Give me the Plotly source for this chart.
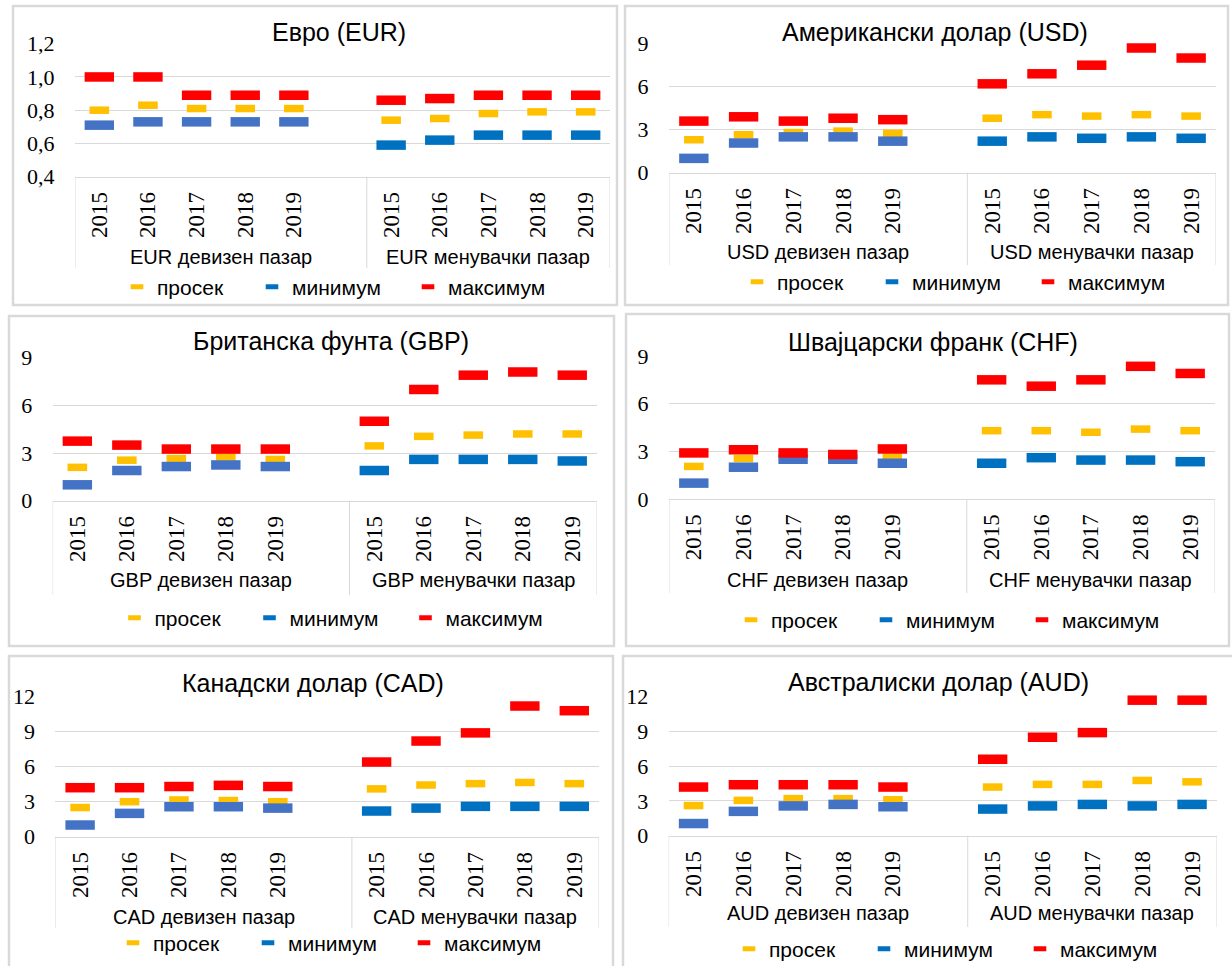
import plotly.graph_objects as go

W, H = 1232, 966

# ---------------- data ----------------
years = ["2015", "2016", "2017", "2018", "2019"]
series_names = ["просек", "минимум", "максимум"]
market_labels = ["девизен пазар", "менувачки пазар"]
currencies = ["EUR", "USD", "GBP", "CHF", "CAD", "AUD"]
titles = ["Евро (EUR)", "Американски долар (USD)", "Британска фунта (GBP)",
          "Швајцарски франк (CHF)", "Канадски долар (CAD)", "Австралиски долар (AUD)"]

eur_dev_avg = [0.80, 0.83, 0.81, 0.81, 0.81]
eur_dev_min = [0.71, 0.73, 0.73, 0.73, 0.73]
eur_dev_max = [1.00, 1.00, 0.89, 0.89, 0.89]
eur_men_avg = [0.74, 0.75, 0.78, 0.79, 0.79]
eur_men_min = [0.59, 0.62, 0.65, 0.65, 0.65]
eur_men_max = [0.86, 0.87, 0.89, 0.89, 0.89]

usd_dev_avg = [2.3, 2.65, 2.8, 2.9, 2.75]
usd_dev_min = [1.0, 2.07, 2.5, 2.5, 2.2]
usd_dev_max = [3.6, 3.9, 3.6, 3.8, 3.7]
usd_men_avg = [3.8, 4.05, 3.95, 4.05, 3.95]
usd_men_min = [2.2, 2.5, 2.4, 2.5, 2.4]
usd_men_max = [6.2, 6.9, 7.5, 8.7, 8.0]

gbp_dev_avg = [2.1, 2.55, 2.65, 2.75, 2.6]
gbp_dev_min = [1.0, 1.9, 2.15, 2.25, 2.15]
gbp_dev_max = [3.75, 3.5, 3.25, 3.25, 3.25]
gbp_men_avg = [3.45, 4.05, 4.13, 4.2, 4.2]
gbp_men_min = [1.9, 2.6, 2.6, 2.6, 2.5]
gbp_men_max = [5.0, 7.0, 7.9, 8.1, 7.9]

chf_dev_avg = [2.05, 2.55, 2.7, 2.7, 2.7]
chf_dev_min = [1.0, 2.0, 2.5, 2.5, 2.25]
chf_dev_max = [2.9, 3.1, 2.9, 2.8, 3.15]
chf_men_avg = [4.3, 4.3, 4.2, 4.4, 4.3]
chf_men_min = [2.25, 2.6, 2.45, 2.45, 2.35]
chf_men_max = [7.5, 7.1, 7.5, 8.35, 7.9]

cad_dev_avg = [2.5, 3.0, 3.15, 3.1, 3.0]
cad_dev_min = [1.0, 2.0, 2.57, 2.57, 2.45]
cad_dev_max = [4.2, 4.2, 4.3, 4.4, 4.3]
cad_men_avg = [4.1, 4.43, 4.55, 4.65, 4.55]
cad_men_min = [2.2, 2.45, 2.6, 2.6, 2.6]
cad_men_max = [6.4, 8.2, 8.9, 11.2, 10.8]

aud_dev_avg = [2.6, 3.05, 3.2, 3.2, 3.1]
aud_dev_min = [1.05, 2.1, 2.57, 2.7, 2.5]
aud_dev_max = [4.2, 4.4, 4.4, 4.4, 4.2]
aud_men_avg = [4.2, 4.43, 4.43, 4.77, 4.65]
aud_men_min = [2.3, 2.57, 2.7, 2.57, 2.7]
aud_men_max = [6.6, 8.5, 8.9, 11.7, 11.7]

data = {
    "EUR": [(eur_dev_avg, eur_men_avg), (eur_dev_min, eur_men_min), (eur_dev_max, eur_men_max)],
    "USD": [(usd_dev_avg, usd_men_avg), (usd_dev_min, usd_men_min), (usd_dev_max, usd_men_max)],
    "GBP": [(gbp_dev_avg, gbp_men_avg), (gbp_dev_min, gbp_men_min), (gbp_dev_max, gbp_men_max)],
    "CHF": [(chf_dev_avg, chf_men_avg), (chf_dev_min, chf_men_min), (chf_dev_max, chf_men_max)],
    "CAD": [(cad_dev_avg, cad_men_avg), (cad_dev_min, cad_men_min), (cad_dev_max, cad_men_max)],
    "AUD": [(aud_dev_avg, aud_men_avg), (aud_dev_min, aud_men_min), (aud_dev_max, aud_men_max)],
}

# ---------------- styles / layout geometry (pixels) ----------------
SANS = "Liberation Sans, Arial, sans-serif"
SERIF = "Liberation Serif, Times New Roman, serif"
GRID = "#D9D9D9"
C_AVG, C_MAX = "#FFC000", "#FF0000"
C_MIN_DEV, C_MIN_MEN = "#4472C4", "#0070C0"

geom = {
    "EUR": dict(box=(13, 6, 617, 305), plot=(75, 610, 43.7, 176.7), yr=(0.4, 1.2), dtick=0.2, fmt=".1f",
                title=(339, 32), grp_y=257, div_bot=268, leg=(138, 287)),
    "USD": dict(box=(625, 6, 1228, 305), plot=(669, 1216, 43.7, 172.7), yr=(0, 9), dtick=3, fmt="d",
                title=(935, 32), grp_y=252, div_bot=265, leg=(758, 282)),
    "GBP": dict(box=(9, 316, 614, 646), plot=(52.6, 597, 357.7, 500.7), yr=(0, 9), dtick=3, fmt="d",
                title=(331, 340.7), grp_y=580, div_bot=595, leg=(135.5, 618)),
    "CHF": dict(box=(626, 314, 1229, 646), plot=(669, 1215, 356, 499), yr=(0, 9), dtick=3, fmt="d",
                title=(933, 341.7), grp_y=580, div_bot=593, leg=(752, 620)),
    "CAD": dict(box=(9, 656, 613, 980), plot=(55.4, 599, 696.7, 836.7), yr=(0, 12), dtick=3, fmt="d",
                title=(313, 683), grp_y=917, div_bot=928, leg=(134, 943)),
    "AUD": dict(box=(623, 656, 1240, 980), plot=(668.6, 1217, 696.7, 835.7), yr=(0, 12), dtick=3, fmt="d",
                title=(938, 681.7), grp_y=913, div_bot=927, leg=(750, 949)),
}


def px(x):
    return x / W


def py(y):
    return 1 - y / H


# category positions: group gi, year yi -> gi*(len(years)+1)+yi (blank slot between groups)
step = len(years) + 1
positions = [gi * step + yi for gi in range(2) for yi in range(len(years))]
tick_text = [y for gi in range(2) for y in years]
x_lo, x_hi = -0.5, step * 2 - 1.5
boundaries = [x_lo, step - 0.5, x_hi]
group_centers = [(boundaries[0] + boundaries[1]) / 2, (boundaries[1] + boundaries[2]) / 2]

fig = go.Figure()
shapes, annotations = [], []
layout_axes, legends = {}, {}

sizes = [14, 21, 21]
widths = [7.5, 9.5, 9.5]
leg_w = [90, 111, 100]

for i, cur in enumerate(currencies):
    g = geom[cur]
    n = "" if i == 0 else str(i + 1)
    xref, yref = "x" + n, "y" + n
    lname = "legend" + n
    x0p, x1p, ytop, ybot = g["plot"]

    for s, (name, (dev, men)) in enumerate(zip(series_names, data[cur])):
        yv = list(dev) + list(men)
        if s == 0:
            cols = [C_AVG] * len(yv)
        elif s == 1:
            cols = [C_MIN_DEV] * len(dev) + [C_MIN_MEN] * len(men)
        else:
            cols = [C_MAX] * len(yv)
        fig.add_trace(go.Scatter(
            x=positions, y=yv, mode="markers", xaxis=xref, yaxis=yref,
            marker=dict(symbol="line-ew", size=sizes[s], color=cols,
                        line=dict(color=cols, width=widths[s])),
            showlegend=False, cliponaxis=False, hoverinfo="y"))
        lc = [C_AVG, C_MIN_MEN, C_MAX][s]
        fig.add_trace(go.Scatter(
            x=[None], y=[None], mode="markers", xaxis=xref, yaxis=yref, name=name,
            marker=dict(symbol="line-ew", size=9, color=lc, line=dict(color=lc, width=6)),
            legend=lname, legendwidth=leg_w[s], showlegend=True))

    layout_axes["xaxis" + n] = dict(
        domain=[px(x0p), px(x1p)], anchor=yref, range=[x_lo, x_hi],
        tickmode="array", tickvals=positions, ticktext=tick_text, tickangle=-90,
        ticks="outside", ticklen=5, tickcolor="rgba(0,0,0,0)",
        tickfont=dict(family=SERIF, size=23, color="black"),
        showgrid=False, zeroline=False, showline=True, linecolor=GRID, linewidth=1,
        automargin=False, fixedrange=True)
    layout_axes["yaxis" + n] = dict(
        domain=[py(ybot), py(ytop)], anchor=xref, range=list(g["yr"]),
        tickmode="linear", tick0=g["yr"][0], dtick=g["dtick"], tickformat=g["fmt"],
        ticks="outside", ticklen=15, tickcolor="rgba(0,0,0,0)",
        tickfont=dict(family=SERIF, size=22, color="black"),
        showgrid=True, gridcolor=GRID, gridwidth=1, zeroline=False, showline=False,
        automargin=False, fixedrange=True)

    lx, ly = g["leg"]
    legends[lname] = dict(
        orientation="h", x=px(lx - 21), xanchor="left", y=py(ly), yanchor="middle",
        font=dict(family=SANS, size=21, color="black"), bgcolor="rgba(0,0,0,0)",
        itemwidth=30, tracegroupgap=0)

    # panel border
    bx0, by0, bx1, by1 = g["box"]
    shapes.append(dict(type="rect", xref="paper", yref="paper",
                       x0=px(bx0), x1=px(bx1), y0=py(by1), y1=py(by0),
                       line=dict(color=GRID, width=2.5), fillcolor="rgba(0,0,0,0)", layer="below"))
    # category group dividers
    for b in boundaries:
        shapes.append(dict(type="line", xref=xref, yref="paper", x0=b, x1=b,
                           y0=py(ybot), y1=py(g["div_bot"]),
                           line=dict(color=GRID, width=1)))
    # group labels
    for gc, ml in zip(group_centers, market_labels):
        annotations.append(dict(text=f"{cur} {ml}", xref=xref, yref="paper", x=gc, y=py(g["grp_y"]),
                                xanchor="center", yanchor="middle", showarrow=False,
                                font=dict(family=SANS, size=20, color="black")))
    # title
    tx, ty = g["title"]
    annotations.append(dict(text=titles[i], xref="paper", yref="paper", x=px(tx), y=py(ty),
                            xanchor="center", yanchor="middle", showarrow=False,
                            font=dict(family=SANS, size=25, color="black")))

fig.update_layout(
    width=W, height=H, margin=dict(l=0, r=0, t=0, b=0, pad=0, autoexpand=False),
    paper_bgcolor="white", plot_bgcolor="white",
    separators=", ", shapes=shapes, annotations=annotations,
    **layout_axes, **legends)

fig.write_html("out.html", post_script="document.body.style.margin='0';",
               config={"displayModeBar": False})
